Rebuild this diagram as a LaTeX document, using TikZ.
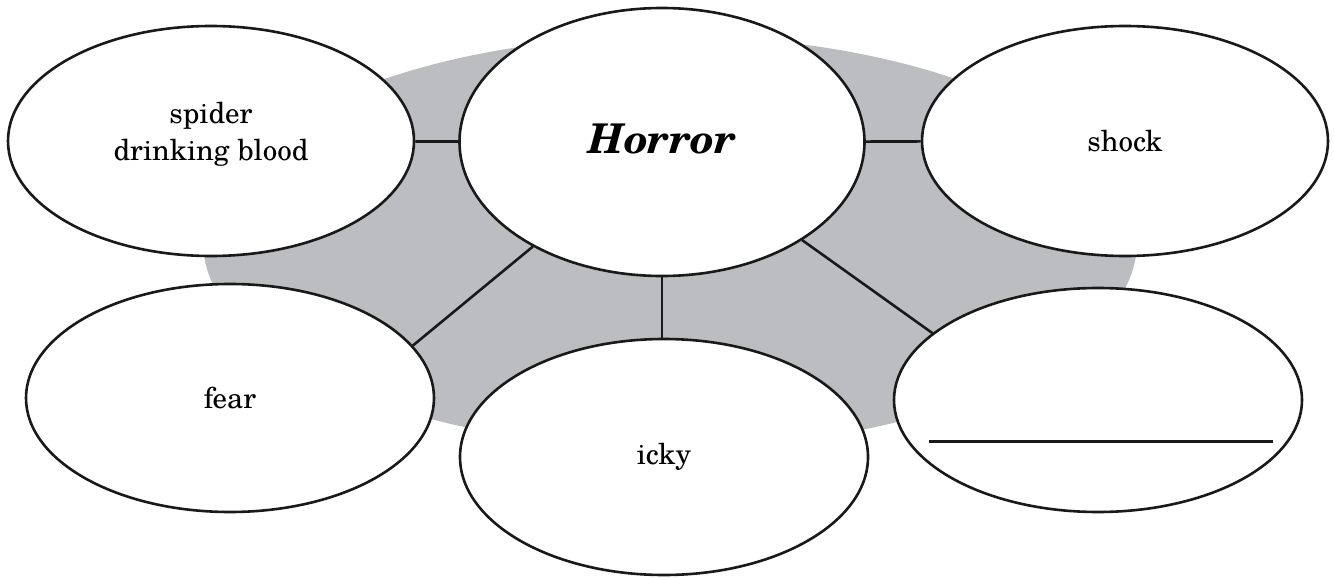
\documentclass[tikz,border=0pt]{standalone}
\usepackage{fontspec}
\setmainfont{TeX Gyre Schola}
\usetikzlibrary{shapes.geometric}
\definecolor{bggray}{HTML}{BCBDC0}
\tikzset{
  bub/.style={ellipse, draw=black!90, line width=2.6pt, fill=white, inner sep=0pt, align=center, font=\fontsize{29}{37}\selectfont},
  link/.style={draw=black!90, line width=2.6pt}
}
\begin{document}
\begin{tikzpicture}[x=1pt,y=-1pt]
\useasboundingbox (0,0) rectangle (1334,578);
\fill[bggray] (670,242) ellipse [x radius=467, y radius=206];
\node[bub, minimum width=406pt, minimum height=230pt] (spider) at (211,141) {};
\node[font=\fontsize{29}{37}\selectfont, align=center] (spidertxt) at (211,134) {spider\\drinking blood};
\node[bub, minimum width=405pt, minimum height=268pt] (horror) at (662,142) {};
\node[font=\fontsize{41}{42}\selectfont\bfseries\itshape] (horrortxt) at (662,139) {Horror};
\node[bub, minimum width=406pt, minimum height=230pt] (shock) at (1125,141) {shock};
\node[bub, minimum width=408pt, minimum height=228pt] (fear) at (230,398) {fear};
\node[bub, minimum width=408pt, minimum height=236pt] (icky) at (664,457) {icky};
\node[bub, minimum width=408pt, minimum height=224pt] (blank) at (1098,400) {};
\draw[link] (spider) -- (horror);
\draw[link] (horror) -- (shock);
\draw[link] (horror.219) -- (fear.16);
\draw[link] (horror.south) -- (icky.north -| horror.south);
\draw[link] (horror.325) -- (blank.158);
\coordinate (bl) at (929,441);
\coordinate (br) at (1273,441);
\draw[line width=3pt, black!90] (bl) -- (br);
\end{tikzpicture}
\end{document}
